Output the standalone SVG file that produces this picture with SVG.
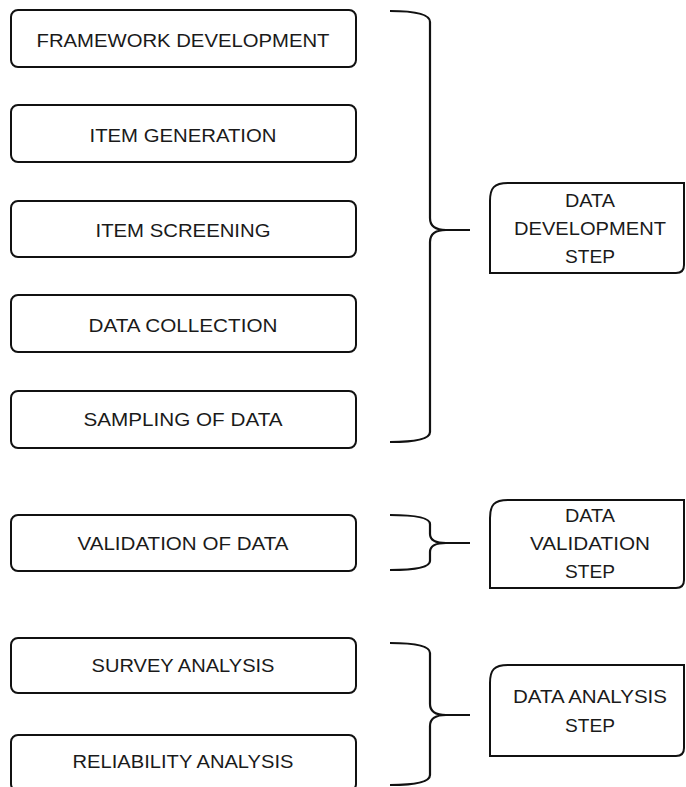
<svg xmlns="http://www.w3.org/2000/svg" width="686" height="787" viewBox="0 0 686 787">
<style>
.box{fill:#fff;stroke:#111;stroke-width:2}
.br{fill:none;stroke:#111;stroke-width:2.2;stroke-linejoin:round}
text{font-family:"Liberation Sans",Arial,sans-serif;font-size:18px;fill:#1a1a1a;text-anchor:middle}
</style>
<rect width="686" height="787" fill="#fff"/>
<g id="connectors">
<path class="br" d="M390,11 Q430,11 430,22 V218 Q430,230 446,230 H470 M446,230 Q430,230 430,242 V432 Q430,442 390,442"/>
<path class="br" d="M390,515 Q430,515 430,524 V534 Q430,543 446,543 H470 M446,543 Q430,543 430,552 V561 Q430,570 390,570"/>
<path class="br" d="M390,643 Q430,643 430,653 V704 Q430,715 446,715 H470 M446,715 Q430,715 430,726 V775 Q430,785 390,785"/>
</g>
<g id="n1"><rect class="box" x="11" y="10" width="345" height="57" rx="7"/><text x="183" y="47" textLength="293" lengthAdjust="spacingAndGlyphs">FRAMEWORK DEVELOPMENT</text></g>
<g id="n2"><rect class="box" x="11" y="105" width="345" height="57" rx="7"/><text x="183" y="142" textLength="187" lengthAdjust="spacingAndGlyphs">ITEM GENERATION</text></g>
<g id="n3"><rect class="box" x="11" y="201" width="345" height="56" rx="7"/><text x="183" y="237" textLength="175" lengthAdjust="spacingAndGlyphs">ITEM SCREENING</text></g>
<g id="n4"><rect class="box" x="11" y="295" width="345" height="57" rx="7"/><text x="183" y="332" textLength="189" lengthAdjust="spacingAndGlyphs">DATA COLLECTION</text></g>
<g id="n5"><rect class="box" x="11" y="391" width="345" height="57" rx="7"/><text x="183" y="426" textLength="199" lengthAdjust="spacingAndGlyphs">SAMPLING OF DATA</text></g>
<g id="n6"><rect class="box" x="11" y="515" width="345" height="56" rx="7"/><text x="183" y="550" textLength="211" lengthAdjust="spacingAndGlyphs">VALIDATION OF DATA</text></g>
<g id="n7"><rect class="box" x="11" y="638" width="345" height="55" rx="7"/><text x="183" y="672" textLength="183" lengthAdjust="spacingAndGlyphs">SURVEY ANALYSIS</text></g>
<g id="n8"><rect class="box" x="11" y="735" width="345" height="56" rx="7"/><text x="183" y="768" textLength="221" lengthAdjust="spacingAndGlyphs">RELIABILITY ANALYSIS</text></g>
<g id="s1"><path class="box" d="M490,273 V201 C490,188 494,183 508,183 H684 V265 Q684,273 676,273 Z"/>
<text x="590" y="207" textLength="50" lengthAdjust="spacingAndGlyphs">DATA</text>
<text x="590" y="235" textLength="152" lengthAdjust="spacingAndGlyphs">DEVELOPMENT</text>
<text x="590" y="263" textLength="50" lengthAdjust="spacingAndGlyphs">STEP</text></g>
<g id="s2"><path class="box" d="M490,588 V518 C490,505 494,500 508,500 H684 V580 Q684,588 676,588 Z"/>
<text x="590" y="522" textLength="50" lengthAdjust="spacingAndGlyphs">DATA</text>
<text x="590" y="550" textLength="120" lengthAdjust="spacingAndGlyphs">VALIDATION</text>
<text x="590" y="578" textLength="50" lengthAdjust="spacingAndGlyphs">STEP</text></g>
<g id="s3"><path class="box" d="M490,756 V683 C490,670 494,665 508,665 H684 V748 Q684,756 676,756 Z"/>
<text x="590" y="703" textLength="154" lengthAdjust="spacingAndGlyphs">DATA ANALYSIS</text>
<text x="590" y="732" textLength="50" lengthAdjust="spacingAndGlyphs">STEP</text></g>
</svg>
